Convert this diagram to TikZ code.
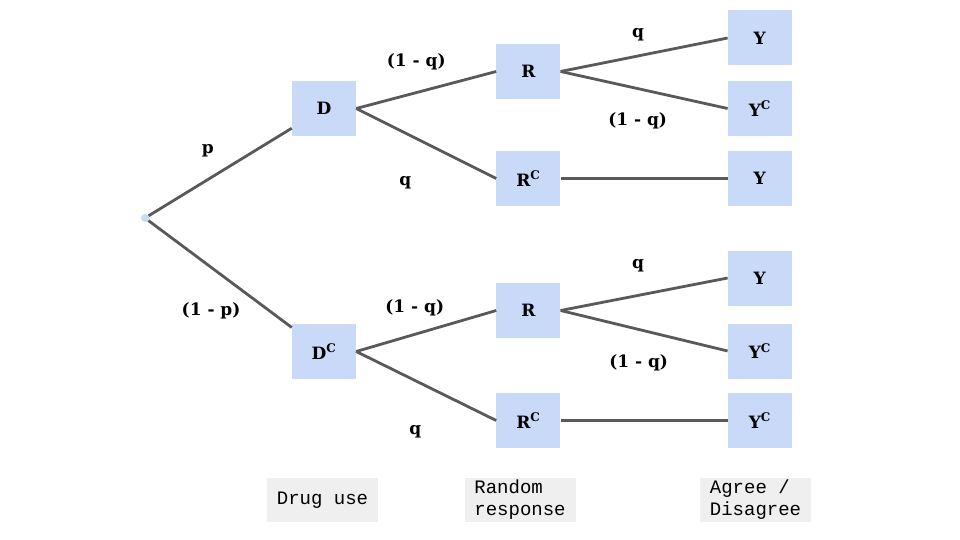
\documentclass[tikz,border=0pt]{standalone}
\usepackage{fontspec}
\newfontfamily\tagmono{Liberation Mono}
\newfontfamily\probserif{DejaVu Serif}
\usetikzlibrary{positioning}
\definecolor{boxblue}{HTML}{C9DAF8}
\definecolor{linegray}{HTML}{595959}
\definecolor{tagbg}{HTML}{EFEFEF}

\begin{document}
\begin{tikzpicture}[%
    x=1pt,
    y=-1pt,
    every edge/.style={%
      draw=linegray,
      line width=2.8pt
    },
    state/.style={%
      rectangle,
      fill=boxblue,
      minimum width=64pt,
      minimum height=55pt,
      inner sep=0pt,
      font=\probserif\fontsize{17}{20}\selectfont\bfseries
    },
    prob/.style={%
      inner sep=0pt,
      font=\probserif\fontsize{17}{20}\selectfont\bfseries
    },
    tag/.style={%
      fill=tagbg,
      minimum width=111pt,
      minimum height=44pt,
      inner sep=2pt,
      align=left,
      font=\tagmono\fontsize{19}{22}\selectfont
    }
  ]
    \useasboundingbox (0,0) rectangle (960,540);

    \node[circle, fill=boxblue, minimum size=8pt, inner sep=0pt] (root) at (145,218) {};
    \node[state] (D)  at (324,108.5) {D};
    \node[state] (DC) at (324,351.5) {D\textsuperscript{C}};

    \node[state] (R1)  [right=140pt of D, yshift=37pt]     {R};
    \node[state] (RC1) [right=140pt of D, yshift=-70pt]    {R\textsuperscript{C}};
    \node[state] (Y1)  [right=167pt of R1, yshift=33.5pt]  {Y};
    \node[state] (YC1) [right=167pt of R1, yshift=-37pt]   {Y\textsuperscript{C}};
    \node[state] (Y2)  [right=167pt of RC1]                {Y};

    \node[state] (R2)  [right=140pt of DC, yshift=41pt]    {R};
    \node[state] (RC2) [right=140pt of DC, yshift=-69pt]   {R\textsuperscript{C}};
    \node[state] (Y3)  [right=167pt of R2, yshift=32.5pt]  {Y};
    \node[state] (YC2) [right=167pt of R2, yshift=-40.5pt] {Y\textsuperscript{C}};
    \node[state] (YC3) [right=167pt of RC2]                {Y\textsuperscript{C}};

    \node[tag] (drug)  at (322.5,500) {Drug use};
    \node[tag] (rand)  at (520,500)   {Random\\response};
    \node[tag] (agree) at (755.5,500) {Agree /\\Disagree};

    \path (root) edge node[prob, xshift=-12.5pt, yshift=21pt]  {p} (D)
          (root) edge node[prob, xshift=-9pt, yshift=-37pt]    {(1 - p)} (DC)
          (D.east) edge node[prob, xshift=-10pt, yshift=28pt]  {(1 - q)} (R1.west)
          (D.east) edge node[prob, xshift=-21pt, yshift=-39.5pt] {q} (RC1.west)
          (R1.east) edge node[prob, xshift=-6pt, yshift=20pt]  {q} (Y1.west)
          (R1.east) edge node[prob, xshift=-6.5pt, yshift=-31pt] {(1 - q)} (YC1.west)
          (RC1) edge (Y2)
          (DC.east) edge node[prob, xshift=-11.5pt, yshift=23pt] {(1 - q)} (R2.west)
          (DC.east) edge node[prob, xshift=-11pt, yshift=-46pt] {q} (RC2.west)
          (R2.east) edge node[prob, xshift=-6pt, yshift=29pt]  {q} (Y3.west)
          (R2.east) edge node[prob, xshift=-5.5pt, yshift=-32pt] {(1 - q)} (YC2.west)
          (RC2) edge (YC3)
          ;
  \end{tikzpicture}
\end{document}
